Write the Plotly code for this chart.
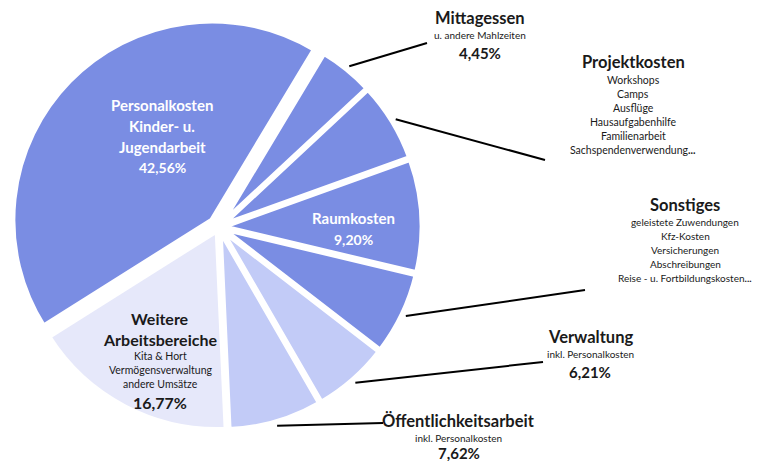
import math
import plotly.graph_objects as go

# ---- data ----
categories = ["Mittagessen", "Projektkosten", "Raumkosten", "Sonstiges",
              "Verwaltung", "Öffentlichkeitsarbeit", "Weitere Arbeitsbereiche",
              "Personalkosten Kinder- u. Jugendarbeit"]
values = [4.45, 6.45, 9.20, 6.74, 6.21, 7.62, 16.77, 42.56]
colors = ["#7A8DE3", "#7A8DE3", "#7A8DE3", "#7A8DE3",
          "#C2CBF7", "#C2CBF7", "#E6E8FA", "#7A8DE3"]
pulls = [0.02, 0.02, 0.02, 0.02, 0.02, 0.02, 0.02, 0.05]

W, H = 759, 461
ROT = 31
FONT = "Lato"
DARK = "#1a1a1a"

# pie geometry in pixels
CX, CY, R = 219, 227, 199
maxpull = max(pulls)
half = R * (1 + maxpull)
dom_x = [(CX - half) / W, (CX + half) / W]
dom_y = [1 - (CY + half) / H, 1 - (CY - half) / H]

fig = go.Figure(go.Pie(
    labels=categories, values=values, sort=False, direction="clockwise",
    rotation=ROT, pull=pulls, textinfo="none", hoverinfo="label+percent",
    marker=dict(colors=colors, line=dict(color="white", width=5)),
    domain=dict(x=dom_x, y=dom_y), showlegend=False,
))

def px(x):
    return x / W

def py(y):
    return 1 - y / H

annotations = []

def add_block(cx, lines, color):
    for text, size, bold, y in lines:
        t = f"<b>{text}</b>" if bold else text
        annotations.append(dict(x=px(cx), y=py(y), xref="paper", yref="paper",
                                text=t, showarrow=False, xanchor="center",
                                yanchor="middle",
                                font=dict(family=FONT, size=size, color=color)))

# inside labels
add_block(162, [("Personalkosten", 15, True, 105), ("Kinder- u.", 15, True, 126),
                ("Jugendarbeit", 15, True, 147), ("42,56%", 14, True, 167)], "white")
add_block(353, [("Raumkosten", 15, True, 218), ("9,20%", 14, True, 240)], "white")
add_block(160, [("Weitere", 16, True, 318), ("Arbeitsbereiche", 16, True, 339),
                ("Kita & Hort", 10.5, False, 356), ("Vermögensverwaltung", 10.5, False, 370),
                ("andere Umsätze", 10.5, False, 384), ("16,77%", 16, True, 402)], DARK)

# outside labels
add_block(480, [("Mittagessen", 16.5, True, 18), ("u. andere Mahlzeiten", 10, False, 35),
                ("4,45%", 15, True, 53)], DARK)
add_block(633, [("Projektkosten", 16.5, True, 62), ("Workshops", 10.5, False, 80),
                ("Camps", 10.5, False, 94), ("Ausflüge", 10.5, False, 108),
                ("Hausaufgabenhilfe", 10.5, False, 122), ("Familienarbeit", 10.5, False, 136),
                ("Sachspendenverwendung<b>...</b>", 10.5, False, 150)], DARK)
add_block(685, [("Sonstiges", 16.5, True, 205), ("geleistete Zuwendungen", 10, False, 222),
                ("Kfz-Kosten", 10, False, 236), ("Versicherungen", 10, False, 250),
                ("Abschreibungen", 10, False, 264),
                ("Reise - u. Fortbildungskosten<b>...</b>", 10, False, 278)], DARK)
add_block(590, [("Verwaltung", 16.5, True, 337), ("inkl. Personalkosten", 10, False, 354),
                ("6,21%", 15, True, 372)], DARK)
add_block(459, [("Öffentlichkeitsarbeit", 16.5, True, 421), ("inkl. Personalkosten", 10, False, 438),
                ("7,62%", 15, True, 453)], DARK)

# leader lines: start on slice edge at mid-angle computed from the data
total = sum(values)
cum = 0
mids = []
for v in values:
    mids.append(ROT + (cum + v / 2) / total * 360)
    cum += v

leader_ends = {0: (427, 43), 1: (545, 160), 3: (585, 290), 4: (543, 362), 5: (383, 423)}
shapes = []
for i, (ex, ey) in leader_ends.items():
    a = math.radians(mids[i])
    rr = R * (1 + 2 * pulls[i])
    sx = CX + rr * math.sin(a)
    sy = CY - rr * math.cos(a)
    shapes.append(dict(type="line", xref="paper", yref="paper",
                       x0=px(sx), y0=py(sy), x1=px(ex), y1=py(ey),
                       line=dict(color="black", width=2)))

fig.update_layout(width=W, height=H, margin=dict(l=0, r=0, t=0, b=0),
                  paper_bgcolor="white", plot_bgcolor="white",
                  annotations=annotations, shapes=shapes)

fig.write_html("out.html", config={"displayModeBar": False},
               post_script="document.body.style.margin='0';")
